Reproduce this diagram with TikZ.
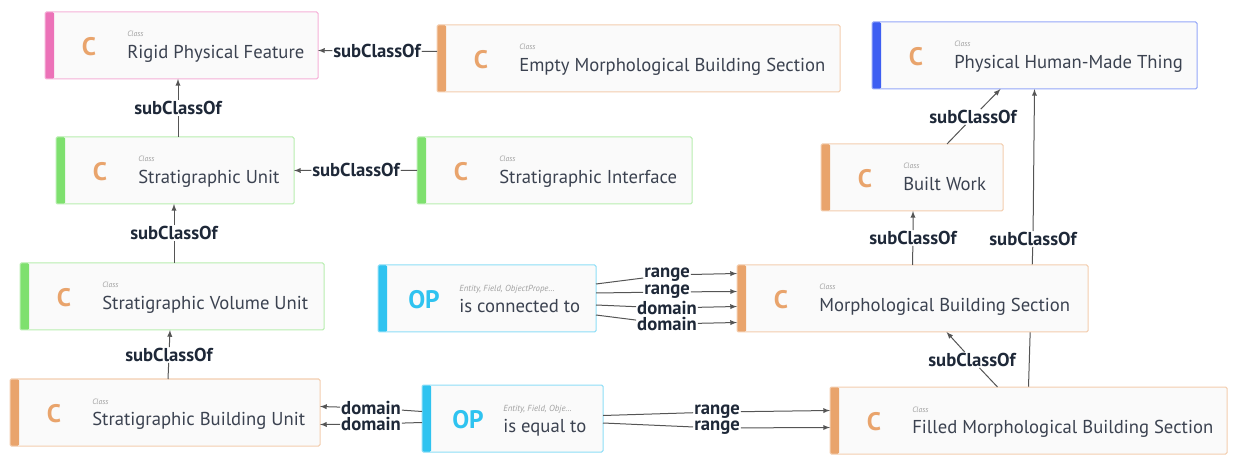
\documentclass[tikz,border=0pt]{standalone}
\usepackage{fontspec}
\setmainfont{PT Sans}
\usetikzlibrary{arrows, positioning, calc, backgrounds}
\definecolor{boxfill}{HTML}{FAFAFA}
\definecolor{classorange}{HTML}{E9A46C}
\definecolor{featurepink}{HTML}{EC72B8}
\definecolor{unitgreen}{HTML}{7EE06E}
\definecolor{thingblue}{HTML}{3D5EF2}
\definecolor{propcyan}{HTML}{2FC3F0}
\definecolor{nametext}{HTML}{3B4250}
\definecolor{kindgray}{HTML}{A0A0A0}
\definecolor{edgegray}{HTML}{555555}
\definecolor{labeltext}{HTML}{1E2838}
\tikzstyle{entity} = [draw=#1!55!white, fill=boxfill, line width=0.75pt, rounded corners=1pt, anchor=north west, minimum height=50.25pt, inner sep=0, outer sep=0, path picture={\fill[#1] (path picture bounding box.north west) rectangle ($(path picture bounding box.south west)+(9,0)$);}]
\tikzstyle{badge} = [font=\bfseries\fontsize{19}{19}\selectfont, inner sep=0]
\tikzstyle{entityname} = [anchor=base west, inner sep=0, text=nametext, font=\fontsize{14}{15}\selectfont]
\tikzstyle{entitykind} = [anchor=base west, inner sep=0, text=kindgray, font=\itshape\fontsize{5.8}{6}\selectfont]
\tikzstyle{propkind} = [anchor=base west, inner sep=0, text=kindgray, font=\itshape\fontsize{6.6}{7}\selectfont]
\tikzstyle{rellabel} = [inner sep=0.6pt, text=labeltext, font=\bfseries\fontsize{14}{14}\selectfont]
\tikzstyle{rel} = [draw=edgegray, line width=0.75pt, ->, >=latex]
\newcommand{\classbox}[5]{
    \node[entity=#4, minimum width=#3*0.75pt] (#1) at #2 {};
    \node[badge, text=classorange] (#1-badge) at ($(#1.west)+(44,1)$) {C};
    \node[entitykind] (#1-kind) at ($(#1.west)+(82,-8.5)$) {Class};
    \node[entityname] (#1-name) at ($(#1.west)+(82,13)$) {#5};
}
\newcommand{\propbox}[5]{
    \node[entity=propcyan, minimum width=#3*0.75pt] (#1) at #2 {};
    \node[badge, text=propcyan] (#1-badge) at ($(#1.west)+(46,1.5)$) {OP};
    \node[propkind] (#1-kind) at ($(#1.west)+(81,-7)$) {#4};
    \node[entityname] (#1-name) at ($(#1.west)+(81,14)$) {#5};
}
\begin{document}
\begin{tikzpicture}[x=0.75pt, y=-0.75pt]
        \useasboundingbox (0,0) rectangle (1238,466);

        % classes
        \classbox{rpf}{(45,12)}{273}{featurepink}{Rigid Physical Feature}
        \classbox{embs}{(437,25)}{403}{classorange}{Empty Morphological Building Section}
        \classbox{phmt}{(872,22)}{325}{thingblue}{Physical Human-Made Thing}
        \classbox{su}{(56,137)}{238}{unitgreen}{Stratigraphic Unit}
        \classbox{si}{(417,137)}{275}{unitgreen}{Stratigraphic Interface}
        \classbox{bw}{(821,144)}{182}{classorange}{Built Work}
        \classbox{svu}{(20,263)}{304}{unitgreen}{Stratigraphic Volume Unit}
        \classbox{mbs}{(737,265)}{351}{classorange}{Morphological Building Section}
        \classbox{sbu}{(10,379)}{310}{classorange}{Stratigraphic Building Unit}
        \classbox{fmbs}{(830,387)}{397}{classorange}{Filled Morphological Building Section}

        % object properties
        \propbox{cto}{(378,265)}{218}{Entity, Field, ObjectPrope\dots}{is connected to}
        \propbox{eq}{(422,385)}{181}{Entity, Field, Obje\dots}{is equal to}

        % edge labels
        \node[rellabel] (sc1) at (377,51) {subClassOf};
        \node[rellabel] (sc2) at (178,108) {subClassOf};
        \node[rellabel] (sc3) at (356,170) {subClassOf};
        \node[rellabel] (sc4) at (174,233) {subClassOf};
        \node[rellabel] (sc5) at (169,355) {subClassOf};
        \node[rellabel] (sc6) at (913,238) {subClassOf};
        \node[rellabel] (sc7) at (973,117) {subClassOf};
        \node[rellabel] (sc8) at (972,360) {subClassOf};
        \node[rellabel] (sc9) at (1033,239) {subClassOf};
        \node[rellabel] (ctr1) at (667,275) {range};
        \node[rellabel] (ctr2) at (667,292) {range};
        \node[rellabel] (ctd1) at (667,308) {domain};
        \node[rellabel] (ctd2) at (667,324) {domain};
        \node[rellabel] (eqd1) at (371,408) {domain};
        \node[rellabel] (eqd2) at (371,424) {domain};
        \node[rellabel] (eqr1) at (717,412) {range};
        \node[rellabel] (eqr2) at (717,428) {range};

        % subClassOf
        \draw[rel] ($(embs.west)+(0,-7)$) -- (sc1) -- ($(rpf.east)+(0,5)$);
        \draw[rel] (su.north -| sc2) -- (sc2) -- (sc2 |- rpf.south);
        \draw[rel] (si.west) -- (sc3) -- (su.east);
        \draw[rel] (svu.north -| sc4) -- (sc4) -- (sc4 |- su.south);
        \draw[rel] ($(sbu.north)+(3,0)$) -- (sc5) -- ($(svu.south)+(-2,0)$);
        \draw[rel] (mbs.north) -- (sc6) -- (sc6 |- bw.south);
        \draw[rel] ($(bw.north)+(35,0)$) -- (sc7) -- ($(phmt.south)+(-34,0)$);
        \draw[rel] ($(fmbs.north)+(-31,0)$) -- (sc8) -- ($(mbs.south)+(34,0)$);
        \begin{pgfonlayer}{background}
            \draw[rel] (fmbs.north) -- (sc9) -- (phmt.south);
        \end{pgfonlayer}

        % domain and range
        \draw[rel] ($(cto.east)+(0,-14.5)$) -- (ctr1) -- ($(mbs.west)+(0,-25)$);
        \draw[rel] ($(cto.east)+(0,-5.5)$) -- (ctr2) -- ($(mbs.west)+(0,-7)$);
        \draw[rel] ($(cto.east)+(0,6.5)$) -- (ctd1) -- ($(mbs.west)+(0,8)$);
        \draw[rel] ($(cto.east)+(0,16.5)$) -- (ctd2) -- ($(mbs.west)+(0,24)$);
        \draw[rel] ($(eq.west)+(0,-7)$) -- (eqd1) -- ($(sbu.east)+(0,-6)$);
        \draw[rel] ($(eq.west)+(0,4)$) -- (eqd2) -- ($(sbu.east)+(0,12)$);
        \draw[rel] ($(eq.east)+(0,-3)$) -- (eqr1) -- ($(fmbs.west)+(0,-10)$);
        \draw[rel] ($(eq.east)+(0,4.5)$) -- (eqr2) -- ($(fmbs.west)+(0,7)$);
    \end{tikzpicture}
\end{document}
